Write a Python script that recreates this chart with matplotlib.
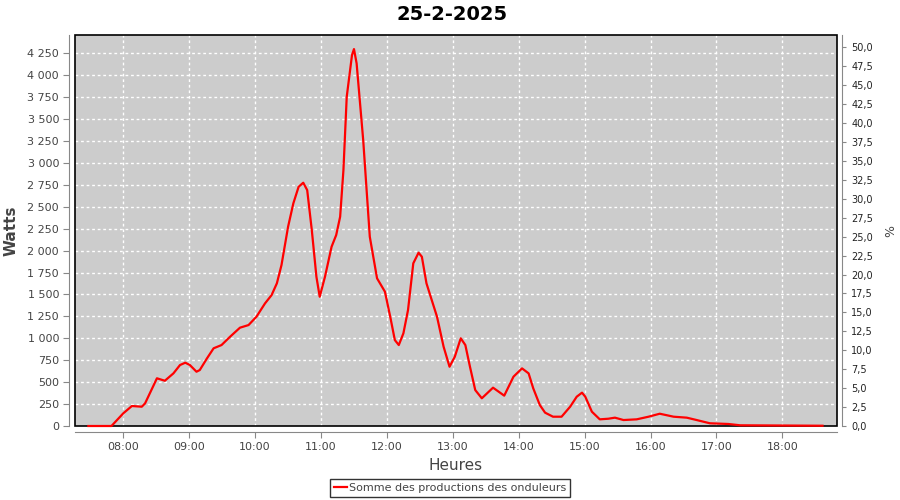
import matplotlib
matplotlib.use("Agg")
import matplotlib.pyplot as plt
from matplotlib.ticker import FuncFormatter, MultipleLocator
from matplotlib.patches import Rectangle

# hours (decimal) and watts
hours = [7.47, 7.82, 8.00, 8.13, 8.28, 8.33, 8.51, 8.63, 8.76, 8.86, 8.94, 9.01,
         9.11, 9.16, 9.27, 9.37, 9.49, 9.62, 9.77, 9.90, 10.02, 10.15, 10.25, 10.33,
         10.40, 10.50, 10.58, 10.66, 10.73, 10.79, 10.86, 10.93, 10.98, 11.06, 11.16,
         11.23, 11.29, 11.34, 11.39, 11.47, 11.50, 11.54, 11.64, 11.74, 11.85, 11.97,
         12.05, 12.12, 12.18, 12.25, 12.32, 12.40, 12.48, 12.53, 12.60, 12.68, 12.76,
         12.86, 12.95, 13.03, 13.12, 13.19, 13.26, 13.34, 13.44, 13.61, 13.78, 13.92,
         14.05, 14.15, 14.22, 14.32, 14.40, 14.52, 14.65, 14.78, 14.88, 14.96, 15.01,
         15.11, 15.23, 15.36, 15.46, 15.59, 15.79, 15.97, 16.14, 16.35, 16.55, 16.70,
         16.90, 17.18, 17.36, 18.61]
watts = [0, 0, 145, 228, 220, 258, 544, 516, 600, 695, 722, 695,
         619, 638, 772, 886, 923, 1018, 1121, 1151, 1246, 1398, 1493, 1627,
         1835, 2272, 2539, 2728, 2774, 2690, 2234, 1702, 1474, 1702, 2044,
         2177, 2386, 2918, 3754, 4229, 4298, 4135, 3260, 2158, 1684, 1531,
         1246, 980, 923, 1057, 1322, 1855, 1976, 1930, 1627, 1436, 1246,
         904, 676, 790, 1000, 923, 676, 410, 316, 437, 346, 562,
         657, 600, 430, 239, 152, 106, 106, 220, 334, 380, 334,
         163, 76, 83, 95, 68, 76, 106, 140, 106, 95, 68,
         31, 23, 8, 3]

title = "25-2-2025"
series_name = "Somme des productions des onduleurs"
hour_ticks = list(range(8, 19))

txt = "#444444"
fig = plt.figure(figsize=(9, 5), dpi=100)
ax = fig.add_axes([75 / 900, 74 / 500, 761.7 / 900, 390.7 / 500])
ax.set_facecolor("#cccccc")

ax.add_patch(Rectangle((0, 0), 1, 1, transform=ax.transAxes, fill=False,
                       edgecolor="black", lw=1.2, clip_on=False, zorder=4))
ax.plot(hours, watts, color="red", lw=1.6, label=series_name, zorder=5, clip_on=False)

ax.set_xlim(7 + 16.0 / 60, 18 + 49.5 / 60)
ax.set_ylim(0, 4455)
ax.set_xticks(hour_ticks)
ax.xaxis.set_major_formatter(FuncFormatter(lambda v, p: "%02d:00" % int(round(v))))
ax.yaxis.set_major_locator(MultipleLocator(250))
ax.yaxis.set_major_formatter(FuncFormatter(lambda v, p: "{:,.0f}".format(v).replace(",", " ")))
ax.grid(True, color="white", linestyle=(0, (2, 2)), linewidth=1)

for s in ["left", "bottom"]:
    ax.spines[s].set_position(("outward", 4))
    ax.spines[s].set_color("#888888")
ax.spines["top"].set_visible(False)
ax.spines["right"].set_visible(False)

ax.tick_params(axis="both", colors="#888888", labelcolor=txt, labelsize=8, length=4)
ax.set_ylabel("Watts", fontsize=11, color=txt, fontweight="bold", labelpad=6)
ax.set_xlabel("Heures", fontsize=11, color=txt, labelpad=4)

ax2 = ax.twinx()
ax2.set_ylim(0, 51.58)
ax2.yaxis.set_major_locator(MultipleLocator(2.5))
ax2.yaxis.set_major_formatter(FuncFormatter(lambda v, p: ("%.1f" % v).replace(".", ",")))
for s in ["left", "top", "bottom"]:
    ax2.spines[s].set_visible(False)
ax2.spines["right"].set_position(("outward", 4))
ax2.spines["right"].set_color("#888888")
ax2.tick_params(axis="y", colors="#888888", labelcolor="#222222", labelsize=7, length=3)
ax2.set_ylabel("%", fontsize=9, color=txt, labelpad=8)

fig.text(0.502, 0.972, title, ha="center", va="center", fontsize=14, fontweight="bold")

leg = fig.legend(loc="center", bbox_to_anchor=(0.5, 0.0245), frameon=True, fontsize=8,
                 handlelength=1.2, handletextpad=0.2, borderpad=0.35, fancybox=False)
leg.get_frame().set_edgecolor("black")
leg.get_frame().set_linewidth(1)
for t in leg.get_texts():
    t.set_color(txt)

fig.savefig("out.png", dpi=100)
